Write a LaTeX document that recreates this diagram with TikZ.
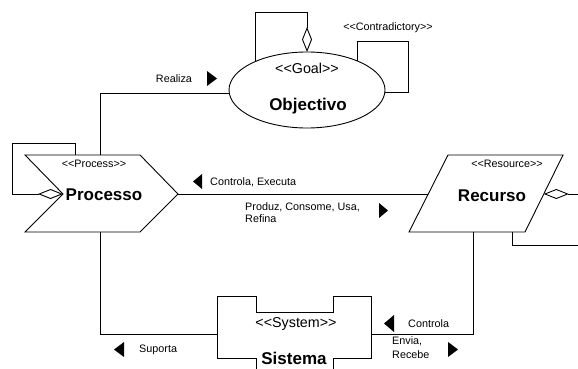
\documentclass[tikz,border=0pt]{standalone}
\usepackage{fontspec}
\setmainfont{Liberation Sans}
\usetikzlibrary{shapes.geometric,arrows.meta}
\tikzset{
  ln/.style={line width=0.9pt, line join=miter},
  small/.style={font=\fontsize{10.8}{13}\selectfont, inner sep=0pt},
  stereo/.style={font=\fontsize{14.3}{16}\selectfont, inner sep=0pt},
  big/.style={font=\fontsize{17}{19}\bfseries\selectfont, inner sep=0pt},
  agg/.style={ln, -{Diamond[open, length=25pt, width=10pt]}},
  tri/.style={fill=black}
}
\begin{document}
\begin{tikzpicture}[x=1pt,y=-1pt]
\useasboundingbox (0,0) rectangle (578,369);
\clip (0,0) rectangle (578,369);
\fill[white] (0,0) rectangle (578,369);

% ---- Goal ----
\node[ln, draw, ellipse, minimum width=156pt, minimum height=76pt, inner sep=0pt] (goal) at (307,90) {};
\node[stereo, anchor=base] (goalst) at (307,74) {<{}<Goal>{}>};
\node[big, anchor=base] (goalname) at (308,110) {Objectivo};
\coordinate (goalL) at (229.1,93);
\coordinate (goalTop) at (307,52);
\coordinate (goalLoopL) at (255,61.7);
\coordinate (goalCL) at (357,61);
\coordinate (goalCR) at (384.9,92);
\node[small, anchor=base] (contr) at (388,30.5) {<{}<Contradictory>{}>};

% self aggregation on goal
\draw[agg] (goalLoopL) -- (255,12) -- (307,12) -- (goalTop);
% contradictory loop
\draw[ln] (goalCL) -- (357,41) -- (408,41) -- (408,92) -- (goalCR);

% ---- Process ----
\draw[ln] (25,155) -- (140,155) -- (178,194) -- (140,232) -- (25,232) -- (63,194) -- cycle;
\coordinate (procTop) at (100,155);
\coordinate (procLoop) at (75,155);
\coordinate (procRight) at (178,194);
\coordinate (procLeft) at (63,194);
\coordinate (procBot) at (100,232);
\node[small, anchor=base] (procst) at (94,167) {<{}<Process>{}>};
\node[big, anchor=base] (procname) at (104,200) {Processo};
\draw[agg] (procLoop) -- (75,143) -- (12,143) -- (12,194) -- (procLeft);

% ---- Resource ----
\draw[ln] (448,155) -- (563,155) -- (525,232) -- (409,232) -- cycle;
\coordinate (resLeft) at (428.2,194);
\coordinate (resRight) at (543.8,194);
\coordinate (resBot) at (473,232);
\coordinate (resBotLoop) at (512,232);
\coordinate (offR) at (580,194);
\coordinate (offR2) at (580,245);
\node[small, anchor=base] (resst) at (507,167) {<{}<Resource>{}>};
\node[big, anchor=base] (resname) at (492,201) {Recurso};
\draw[agg] (offR) -- (resRight);
\draw[ln] (resBotLoop) |- (offR2);

% ---- System ----
\draw[ln] (217,296) -- (256,296) -- (256,312) -- (333,312) -- (333,296) -- (371,296)
  -- (371,358) -- (333,358) -- (333,380) -- (256,380) -- (256,358) -- (217,358) -- cycle;
\coordinate (sysL) at (217,334);
\coordinate (sysR) at (371,334);
\node[stereo, anchor=base] (sysst) at (296,327) {<{}<System>{}>};
\node[big, anchor=base] (sysname) at (294,364) {Sistema};

% ---- connectors ----
\draw[ln] (procTop) |- (goalL);
\draw[ln] (procRight) -- (resLeft);
\draw[ln] (procBot) |- (sysL);
\draw[ln] (resBot) |- (sysR);

% ---- labels ----
\node[small, anchor=base] (lreal) at (174,82) {Realiza};
\fill[tri] (207,71) -- (217,78.5) -- (207,86) -- cycle;

\node[small, anchor=base west] (lctrl) at (210,185) {Controla, Executa};
\fill[tri] (193,181.5) -- (202,174) -- (202,189) -- cycle;

\node[small, anchor=base west] (lprod) at (245,210) {Produz, Consome, Usa,};
\node[small, anchor=base west] (lprod2) at (245,222) {Refina};
\fill[tri] (379,203) -- (388,210.5) -- (379,218) -- cycle;

\node[small, anchor=base west] (lsup) at (139,352) {Suporta};
\fill[tri] (114,349.5) -- (124,342) -- (124,357) -- cycle;

\node[small, anchor=base west] (lctrl2) at (408,327) {Controla};
\fill[tri] (384,323.5) -- (394,315) -- (394,332) -- cycle;

\node[small, anchor=base west] (lenv) at (392,344) {Envia,};
\node[small, anchor=base west] (lenv2) at (392,358) {Recebe};
\fill[tri] (448,342) -- (458,349.5) -- (448,357) -- cycle;
\end{tikzpicture}
\end{document}
